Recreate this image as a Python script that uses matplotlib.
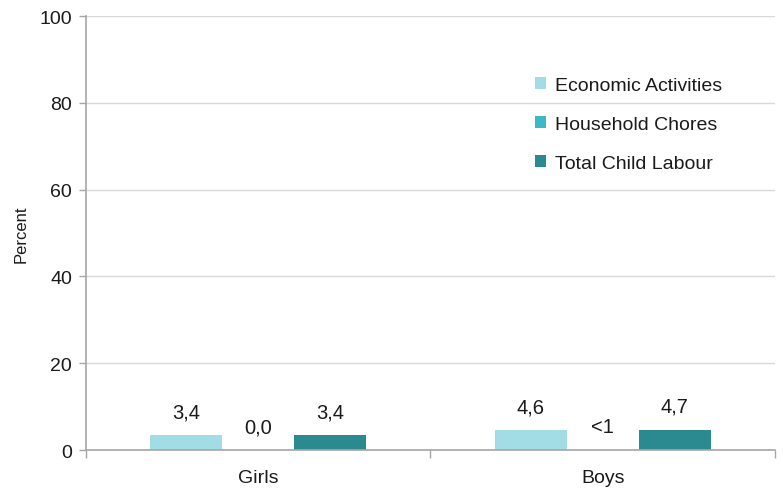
import matplotlib
matplotlib.use("Agg")
import matplotlib.pyplot as plt
import numpy as np

plt.rcParams['font.family'] = ['Liberation Sans', 'DejaVu Sans']

categories = ["Girls", "Boys"]
series_names = ["Economic Activities", "Household Chores", "Total Child Labour"]
economic = [3.4, 4.6]
chores = [0.0, 0.0]
total = [3.4, 4.7]
economic_labels = ["3,4", "4,6"]
chores_labels = ["0,0", "<1"]
total_labels = ["3,4", "4,7"]
colors = ["#a2dde5", "#3bbac6", "#2b8a90"]
y_ticks = [0, 20, 40, 60, 80, 100]

fig = plt.figure(figsize=(7.83, 4.89), dpi=100)
ax = fig.add_axes([0.1098, 0.0777, 0.8800, 0.8875])

x = np.arange(len(categories))
width = 0.209
offsets = [-width, 0.0, width]
for vals, labs, off, col, name in zip([economic, chores, total],
                                      [economic_labels, chores_labels, total_labels],
                                      offsets, colors, series_names):
    bars = ax.bar(x + off, vals, width, color=col, label=name, zorder=3)
    for b, lab in zip(bars, labs):
        ax.annotate(lab, (b.get_x() + b.get_width() / 2, b.get_height()),
                    xytext=(0, 10), textcoords="offset points",
                    ha="center", va="bottom", fontsize=14.5, color="#1a1a1a")

ax.set_xlim(-0.5, 1.5)
ax.set_ylim(0, 100)
ax.set_yticks(y_ticks)
ax.set_yticklabels([str(t) for t in y_ticks], fontsize=14, color="#1a1a1a")
ax.set_xticks([-0.5, 0.5, 1.5], minor=False)
ax.set_xticklabels(["", "", ""])
ax.set_xticks(x, minor=True)
ax.set_xticklabels(categories, minor=True, fontsize=14, color="#1a1a1a")
ax.tick_params(axis="x", which="minor", length=0, pad=14)
ax.tick_params(axis="x", which="major", length=6, color="#a6a6a6", width=1)
ax.tick_params(axis="y", length=5, color="#a6a6a6", width=1, pad=5)

ax.grid(axis="y", color="#d9d9d9", linewidth=1, zorder=0)
for s in ["top", "right"]:
    ax.spines[s].set_visible(False)
for s in ["left", "bottom"]:
    ax.spines[s].set_color("#a6a6a6")
    ax.spines[s].set_linewidth(1.2)
    ax.spines[s].set_zorder(4)

ax.set_ylabel("Percent", fontsize=12, color="#1a1a1a", labelpad=8)

ax.legend(loc="upper left", bbox_to_anchor=(0.626, 0.9), frameon=False,
          fontsize=14, handlelength=0.6, handleheight=0.6, handletextpad=0.45,
          labelspacing=1.12, labelcolor="#1a1a1a")

fig.savefig("out.png", dpi=100)
